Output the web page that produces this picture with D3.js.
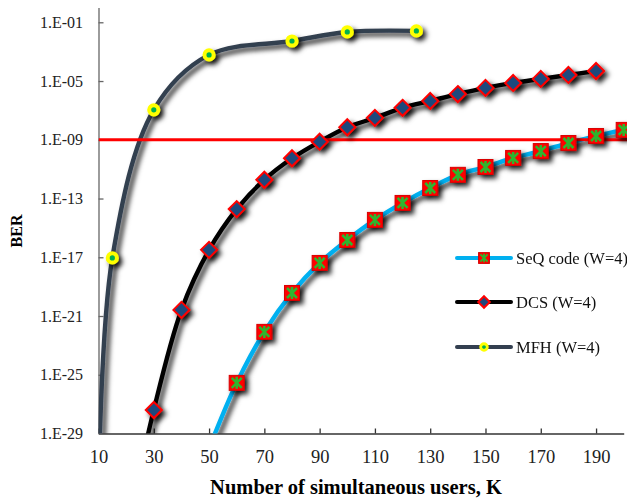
<!DOCTYPE html>
<html>
<head>
<meta charset="utf-8">
<script src="https://cdn.jsdelivr.net/npm/d3@7"></script>
<style>
  body { margin: 0; background: #fff; }
</style>
</head>
<body>
<script>
// series data (BER vs number of users K)
var seriesNames = ["SeQ code (W=4)", "DCS (W=4)", "MFH (W=4)"];

var kSeq = [50, 60, 70, 80, 90, 100, 110, 120, 130, 140, 150, 160, 170, 180, 190, 200];
var berSeq = [1e-30, 2.8e-26, 8.3e-23, 3.7e-20, 4.1e-18, 1.5e-16, 3.5e-15, 5e-14, 5.2e-13,
  4.1e-12, 1.4e-11, 5.8e-11, 1.7e-10, 6e-10, 1.8e-9, 4.7e-9];

var kDcs = [20, 30, 40, 50, 60, 70, 80, 90, 100, 110, 120, 130, 140, 150, 160, 170, 180, 190];
var berDcs = [1e-36, 4e-28, 2.6e-21, 3.2e-17, 1.9e-14, 1.9e-12, 5.5e-11, 7.4e-10, 7.1e-9,
  3.1e-8, 1.5e-7, 4.4e-7, 1.3e-6, 3.4e-6, 7.4e-6, 1.4e-5, 2.6e-5, 4.8e-5];

var kMfh = [10, 15, 30, 50, 80, 100, 125];
var berMfh = [1e-33, 9e-18, 1.1e-7, 6e-4, 5.3e-3, 2.2e-2, 2.6e-2];

var threshold = 1e-9;

var xTicks = [10, 30, 50, 70, 90, 110, 130, 150, 170, 190];
var yTicks = [1e-29, 1e-25, 1e-21, 1e-17, 1e-13, 1e-9, 1e-5, 1e-1];

var width = 627, height = 499;
var left = 98.5, bottom = 433.5;

var x = d3.scaleLinear().domain([10, 200]).range([left, 623.7]);
var y = d3.scaleLog().domain([1e-29, 1]).range([bottom, 7.6]);

var svg = d3.select("body").append("svg")
  .attr("width", width)
  .attr("height", height);

var defs = svg.append("defs");
defs.append("clipPath").attr("id", "plot")
  .append("rect")
  .attr("x", left).attr("y", 0)
  .attr("width", width - left).attr("height", bottom);

var shadow = defs.append("filter").attr("id", "shadow")
  .attr("x", "-20%").attr("y", "-20%").attr("width", "140%").attr("height", "140%");
shadow.append("feDropShadow")
  .attr("dx", 3.5).attr("dy", 3.5)
  .attr("stdDeviation", 2.4)
  .attr("flood-color", "#000")
  .attr("flood-opacity", 0.85);

var font = "'Liberation Serif', 'Times New Roman', serif";

// axes
var xAxis = d3.axisBottom(x)
  .tickValues(xTicks)
  .tickSizeInner(-5)
  .tickSizeOuter(0)
  .tickPadding(16);

var yAxis = d3.axisLeft(y)
  .tickValues(yTicks)
  .tickSizeInner(-5)
  .tickSizeOuter(0)
  .tickPadding(15.5)
  .tickFormat(function (d) {
    var e = Math.round(-Math.log10(d));
    return "1.E-" + (e < 10 ? "0" + e : e);
  });

var gx = svg.append("g")
  .attr("transform", "translate(0," + bottom + ")")
  .call(xAxis);
gx.attr("font-family", font).attr("font-size", 18.5);
gx.selectAll("path, line").attr("stroke", "#333").attr("stroke-width", 1.3);
gx.selectAll("text").attr("fill", "#222");

var gy = svg.append("g")
  .attr("transform", "translate(" + left + ",0)")
  .call(yAxis);
gy.attr("font-family", font).attr("font-size", 16);
gy.selectAll("path, line").attr("stroke", "#666").attr("stroke-width", 1.3);
gy.selectAll("text").attr("fill", "#222");

svg.append("text")
  .attr("x", 356)
  .attr("y", 494)
  .attr("text-anchor", "middle")
  .attr("font-family", font)
  .attr("font-weight", "bold")
  .attr("font-size", 20.5)
  .text("Number of simultaneous users, K");

svg.append("text")
  .attr("transform", "translate(22,231) rotate(-90)")
  .attr("text-anchor", "middle")
  .attr("font-family", font)
  .attr("font-weight", "bold")
  .attr("font-size", 16)
  .text("BER");

// series
var series = [
  {name: seriesNames[0], k: kSeq, ber: berSeq, color: "#00B0F0", marker: "seq"},
  {name: seriesNames[1], k: kDcs, ber: berDcs, color: "#000000", marker: "dcs"},
  {name: seriesNames[2], k: kMfh, ber: berMfh, color: "#333F50", marker: "mfh"}
];

var line = d3.line()
  .x(function (d) { return x(d[0]); })
  .y(function (d) { return y(d[1]); })
  .curve(d3.curveCatmullRom);

var plot = svg.append("g").attr("clip-path", "url(#plot)");

var lines = plot.append("g").attr("filter", "url(#shadow)");
series.forEach(function (s) {
  lines.append("path")
    .datum(d3.zip(s.k, s.ber))
    .attr("fill", "none")
    .attr("stroke", s.color)
    .attr("stroke-width", 4.4)
    .attr("stroke-linejoin", "round")
    .attr("d", line);
});

plot.append("line")
  .attr("x1", left).attr("x2", width)
  .attr("y1", y(threshold)).attr("y2", y(threshold))
  .attr("stroke", "#FF0000")
  .attr("stroke-width", 3);

function drawMarker(g, type, s) {
  if (type == "seq") {
    g.append("rect")
      .attr("x", -7.5 * s).attr("y", -7.5 * s)
      .attr("width", 15 * s).attr("height", 15 * s)
      .attr("fill", "#FF0000")
      .attr("stroke", "#D80000")
      .attr("stroke-width", 1);
    g.append("path")
      .attr("d", "M" + (-5 * s) + "," + (-5 * s) + "L" + (5 * s) + "," + (5 * s) +
        "M" + (-5 * s) + "," + (5 * s) + "L" + (5 * s) + "," + (-5 * s) +
        "M0," + (-6 * s) + "V" + (6 * s))
      .attr("stroke", "#2DB52D")
      .attr("stroke-width", 2.6 * s)
      .attr("fill", "none");
  } else if (type == "dcs") {
    var r = 8 * s;
    g.append("path")
      .attr("d", "M0," + (-r) + "L" + r + ",0L0," + r + "L" + (-r) + ",0Z")
      .attr("fill", "#1F497D")
      .attr("stroke", "#FF0000")
      .attr("stroke-width", 2);
  } else {
    g.append("circle")
      .attr("r", 4.6 * s)
      .attr("fill", "#00B050")
      .attr("stroke", "#FFFF00")
      .attr("stroke-width", 4 * s);
  }
}

var markers = plot.append("g").attr("filter", "url(#shadow)");
series.forEach(function (s) {
  markers.selectAll(null)
    .data(d3.zip(s.k, s.ber))
    .enter().append("g")
    .attr("transform", function (d) {
      return "translate(" + x(d[0]) + "," + y(d[1]) + ")";
    })
    .each(function () { drawMarker(d3.select(this), s.marker, 1); });
});

// legend
var legendY = [258, 302, 347];
var legend = svg.append("g");
series.forEach(function (s, i) {
  var g = legend.append("g").attr("transform", "translate(457," + legendY[i] + ")");
  g.append("line")
    .attr("x1", 0).attr("x2", 54)
    .attr("stroke", s.color)
    .attr("stroke-width", 4)
    .attr("stroke-linecap", "round");
  drawMarker(g.append("g").attr("transform", "translate(27,0)"), s.marker, 0.72);
  g.append("text")
    .attr("x", 59)
    .attr("y", 6)
    .attr("font-family", font)
    .attr("font-size", 16.5)
    .attr("fill", "#111")
    .text(s.name);
});
</script>
</body>
</html>
